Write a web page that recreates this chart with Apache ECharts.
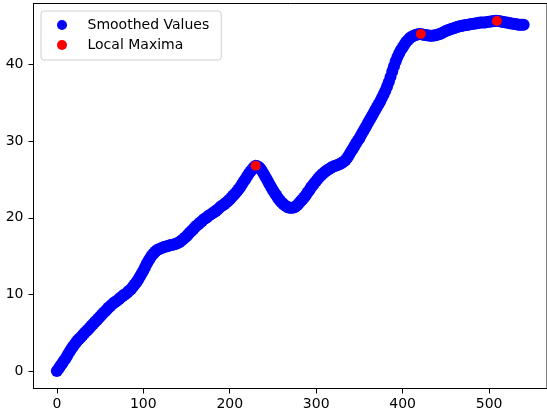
<!DOCTYPE html>
<html>
<head>
<meta charset="utf-8">
<script src="https://cdn.jsdelivr.net/npm/echarts@6/dist/echarts.min.js"></script>
<style>
  html, body { margin: 0; padding: 0; background: #fff; }
  #chart { width: 547px; height: 416px; }
</style>
</head>
<body>
<div id="chart"></div>
<script>
// x positions of the smoothed points (read every 2 units)
var smoothX = [
  0, 2, 4, 6, 8, 10, 12, 14, 16, 18, 20, 22, 24, 26, 28, 30, 32, 34, 36, 38,
  40, 42, 44, 46, 48, 50, 52, 54, 56, 58, 60, 62, 64, 66, 68, 70, 72, 74, 76, 78,
  80, 82, 84, 86, 88, 90, 92, 94, 96, 98, 100, 102, 104, 106, 108, 110, 112, 114, 116, 118,
  120, 122, 124, 126, 128, 130, 132, 134, 136, 138, 140, 142, 144, 146, 148, 150, 152, 154, 156, 158,
  160, 162, 164, 166, 168, 170, 172, 174, 176, 178, 180, 182, 184, 186, 188, 190, 192, 194, 196, 198,
  200, 202, 204, 206, 208, 210, 212, 214, 216, 218, 220, 222, 224, 226, 228, 230, 232, 234, 236, 238,
  240, 242, 244, 246, 248, 250, 252, 254, 256, 258, 260, 262, 264, 266, 268, 270, 272, 274, 276, 278,
  280, 282, 284, 286, 288, 290, 292, 294, 296, 298, 300, 302, 304, 306, 308, 310, 312, 314, 316, 318,
  320, 322, 324, 326, 328, 330, 332, 334, 336, 338, 340, 342, 344, 346, 348, 350, 352, 354, 356, 358,
  360, 362, 364, 366, 368, 370, 372, 374, 376, 378, 380, 382, 384, 386, 388, 390, 392, 394, 396, 398,
  400, 402, 404, 406, 408, 410, 412, 414, 416, 418, 420, 422, 424, 426, 428, 430, 432, 434, 436, 438,
  440, 442, 444, 446, 448, 450, 452, 454, 456, 458, 460, 462, 464, 466, 468, 470, 472, 474, 476, 478,
  480, 482, 484, 486, 488, 490, 492, 494, 496, 498, 500, 502, 504, 506, 508, 510, 512, 514, 516, 518,
  520, 522, 524, 526, 528, 530, 532, 534, 536, 538, 540
]
var smoothY = [
  0.0, 0.3, 0.65, 0.95, 1.3, 1.6, 2.0, 2.4, 2.75, 3.1, 3.4, 3.7, 4.0, 4.2, 4.45, 4.7, 4.95, 5.2, 5.4, 5.65,
  5.9, 6.15, 6.4, 6.6, 6.85, 7.1, 7.35, 7.6, 7.8, 8.05, 8.3, 8.5, 8.7, 8.9, 9.05, 9.2, 9.4, 9.6, 9.8, 9.95,
  10.1, 10.3, 10.5, 10.7, 11.0, 11.3, 11.6, 11.9, 12.3, 12.7, 13.1, 13.55, 14.0, 14.4, 14.75, 15.1, 15.35, 15.6, 15.8, 15.9,
  16.0, 16.1, 16.2, 16.25, 16.3, 16.4, 16.45, 16.5, 16.55, 16.6, 16.7, 16.85, 17.0, 17.2, 17.4, 17.6, 17.85, 18.1, 18.3, 18.55,
  18.8, 19.0, 19.2, 19.4, 19.6, 19.8, 19.95, 20.1, 20.3, 20.45, 20.6, 20.75, 20.9, 21.1, 21.3, 21.5, 21.65, 21.8, 22.0, 22.2,
  22.4, 22.65, 22.9, 23.15, 23.4, 23.7, 24.0, 24.35, 24.7, 25.05, 25.4, 25.75, 26.05, 26.35, 26.6, 26.8, 26.75, 26.6, 26.35, 26.0,
  25.6, 25.2, 24.8, 24.4, 24.0, 23.6, 23.25, 22.9, 22.55, 22.25, 22.0, 21.8, 21.6, 21.45, 21.35, 21.3, 21.3, 21.35, 21.45, 21.65,
  21.9, 22.15, 22.4, 22.65, 22.95, 23.3, 23.6, 23.95, 24.25, 24.55, 24.8, 25.1, 25.35, 25.6, 25.8, 26.0, 26.15, 26.3, 26.45, 26.6,
  26.7, 26.8, 26.85, 26.95, 27.05, 27.2, 27.35, 27.55, 27.85, 28.2, 28.6, 28.95, 29.3, 29.7, 30.05, 30.4, 30.8, 31.2, 31.6, 32.0,
  32.4, 32.8, 33.2, 33.6, 34.0, 34.4, 34.8, 35.2, 35.65, 36.1, 36.6, 37.15, 37.75, 38.4, 39.1, 39.8, 40.45, 41.0, 41.5, 41.9,
  42.25, 42.6, 42.95, 43.2, 43.45, 43.6, 43.75, 43.85, 43.92, 43.97, 44.0, 43.97, 43.92, 43.87, 43.83, 43.8, 43.78, 43.78, 43.8, 43.85,
  43.9, 43.98, 44.05, 44.15, 44.28, 44.4, 44.48, 44.56, 44.64, 44.72, 44.8, 44.88, 44.96, 45.02, 45.06, 45.1, 45.14, 45.18, 45.22, 45.26,
  45.3, 45.34, 45.38, 45.42, 45.46, 45.5, 45.5, 45.5, 45.52, 45.56, 45.6, 45.64, 45.68, 45.7, 45.72, 45.7, 45.66, 45.62, 45.58, 45.54,
  45.5, 45.46, 45.42, 45.38, 45.34, 45.3, 45.26, 45.22, 45.2, 45.2, 45.2
]
var maxX = [230, 421, 509]
var maxY = [26.8, 44.0, 45.7]

var xTicks = [0, 100, 200, 300, 400, 500]
var yTicks = [0, 10, 20, 30, 40]

function pairs(xs, ys) {
  return xs.map(function (x, i) { return [x, ys[i]] })
}

var myChart = echarts.init(document.getElementById('chart'), null, { renderer: 'canvas' })

var axisFont = { color: '#000', fontSize: 14, fontFamily: 'DejaVu Sans' }

var option = {
  animation: false,
  backgroundColor: '#fff',
  grid: {
    left: 33.5,
    right: -1.5,
    top: 3.5,
    bottom: 27.5,
    show: true,
    borderColor: '#000',
    borderWidth: 1
  },
  legend: {
    orient: 'vertical',
    left: 41,
    top: 11,
    padding: [6, 12, 7, 16],
    itemGap: 4,
    itemWidth: 41,
    itemHeight: 10,
    borderColor: '#d0d0d0',
    borderWidth: 1,
    borderRadius: 3,
    textStyle: { color: '#000', fontSize: 14, lineHeight: 16, fontFamily: 'DejaVu Sans' },
    data: [
      { name: 'Smoothed Values', icon: 'circle' },
      { name: 'Local Maxima', icon: 'circle' }
    ]
  },
  xAxis: {
    type: 'value',
    min: -27,
    max: 567,
    splitLine: { show: false },
    axisLine: { onZero: false, lineStyle: { color: '#000', width: 1 } },
    axisTick: { length: 5, lineStyle: { color: '#000' }, customValues: xTicks },
    axisLabel: Object.assign({ margin: 9, customValues: xTicks }, axisFont)
  },
  yAxis: {
    type: 'value',
    min: -2.285,
    max: 47.985,
    splitLine: { show: false },
    axisLine: { onZero: false, lineStyle: { color: '#000', width: 1 } },
    axisTick: { length: 5, lineStyle: { color: '#000' }, customValues: yTicks },
    axisLabel: Object.assign({ margin: 10, customValues: yTicks }, axisFont)
  },
  series: [
    {
      name: 'Smoothed Values',
      type: 'scatter',
      symbol: 'circle',
      symbolSize: 12,
      itemStyle: { color: '#0000ff', opacity: 1 },
      emphasis: { disabled: true },
      z: 2,
      data: pairs(smoothX, smoothY)
    },
    {
      name: 'Local Maxima',
      type: 'scatter',
      symbol: 'circle',
      symbolSize: 10,
      itemStyle: { color: '#ff0000', opacity: 1 },
      emphasis: { disabled: true },
      z: 3,
      data: pairs(maxX, maxY)
    }
  ]
}

myChart.setOption(option)
</script>
</body>
</html>
